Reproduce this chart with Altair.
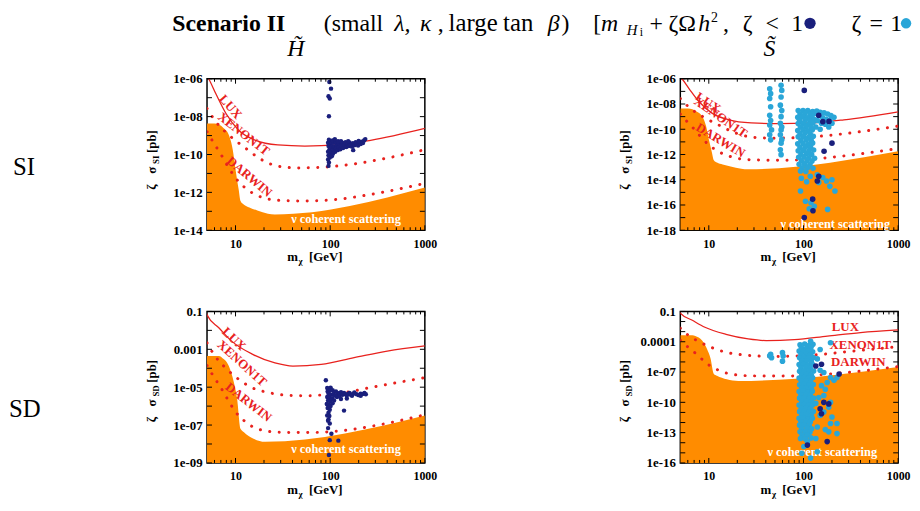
import altair as alt
import pandas as pd

FONT = "Liberation Serif"
RED = "#e8221e"
ORANGE = "#ff8c00"
NAVY = "#1a1f7c"
CYAN = "#2aa6d8"
W, H = 220, 153
XDOM = [5, 1000]

# ---------------- data ----------------
SI_FLOOR_M = [5, 6, 6.7, 7.5, 8.5, 9.35, 10.0, 10.8, 11.3, 12.2, 14, 17, 22, 26, 1000]
SI_FLOOR_S = [4.4e-9, 4.4e-9, 3.8e-9, 2.4e-9, 1.07e-9, 1.8e-10, 1.6e-11, 1.4e-12, 3.5e-13, 2.3e-13, 1.6e-13, 1.1e-13, 7.5e-14, 6.8e-14, 1.8e-12]
SD_FLOOR_M = [5, 6.7, 7.2, 8.5, 9.6, 10.4, 11.3, 12.2, 15.5, 20.5, 1000]
SD_FLOOR_S = [4.4e-4, 4.4e-4, 3.6e-4, 1.3e-4, 1.8e-5, 2.4e-6, 6.4e-8, 4.3e-8, 1.9e-8, 1.3e-8, 3.2e-7]

LUX_SI_M = [4.9, 5.2, 6.2, 7.9, 10.8, 16.3, 28, 54, 120, 267, 1000]
LUX_SI_S = [1.6e-6, 1e-6, 1.6e-7, 1.5e-8, 1.9e-9, 5.6e-10, 3.2e-10, 2.8e-10, 3.2e-10, 5.6e-10, 2.4e-9]
XEN_SI_M = [5, 6.2, 8.5, 12.7, 18.9, 28.3, 45.8, 80, 179, 401, 1000]
XEN_SI_S = [2.7e-8, 5.4e-9, 1.07e-9, 2.2e-10, 5.3e-11, 2.4e-11, 1.96e-11, 2.1e-11, 3.2e-11, 6.5e-11, 1.8e-10]
DAR_SI_M = [5, 5.9, 6.95, 8.1, 10, 12.7, 17.5, 28.3, 53.8, 120, 268, 1000]
DAR_SI_S = [1.6e-9, 4e-10, 1.1e-10, 2.9e-11, 5.8e-12, 1.7e-12, 6.4e-13, 3.8e-13, 3.5e-13, 4.3e-13, 7.8e-13, 3e-12]

LUX_SD_M = [4.9, 5, 6.7, 9.1, 15.2, 26.1, 40.4, 80.3, 179, 401, 1000]
LUX_SD_S = [0.09, 0.067, 0.0134, 2.7e-3, 5.4e-4, 1.9e-4, 1.3e-4, 1.6e-4, 3.6e-4, 8.1e-4, 1.5e-3]
XEN_SD_M = [5, 5.9, 7.8, 10.8, 14.8, 22.3, 33.5, 53.8, 87.4, 142, 268, 1000]
XEN_SD_S = [2.2e-3, 5.4e-4, 1.07e-4, 2.6e-5, 9.6e-6, 5.2e-6, 3.8e-6, 3.5e-6, 4e-6, 5.2e-6, 9.6e-6, 3.2e-5]
DAR_SD_M = [5, 5.9, 6.95, 8.1, 10, 12.7, 17.5, 28.3, 53.8, 120, 268, 1000]
DAR_SD_S = [1.4e-4, 3.5e-5, 1e-5, 2.7e-6, 5e-7, 1.5e-7, 6e-8, 4.2e-8, 4e-8, 4.8e-8, 8.5e-8, 3.5e-7]

# Higgsino, SI (zeta < 1)
TL_NAVY = [(98, 6.7e-7), (102, 3e-7), (96, 1.2e-7), (99, 9e-8), (97, 1.05e-8),
           (96, 2.5e-11), (97, 3.8e-11), (95, 5.5e-11), (99, 7e-11), (96, 9e-11), (100, 1.1e-10), (95, 1.4e-10),
           (98, 1.8e-10), (101, 2.3e-10), (96, 2.8e-10), (99, 3.4e-10), (95, 4.2e-10), (100, 5e-10), (97, 6e-10),
           (103, 4e-10), (102, 1.5e-10), (104, 8e-11), (104, 2.6e-10), (107, 1.1e-10), (108, 1.8e-10), (110, 2.6e-10),
           (109, 4.2e-10), (106, 5.5e-10), (113, 1.4e-10), (115, 2.1e-10), (117, 3.2e-10), (114, 4.6e-10), (120, 1.7e-10),
           (123, 2.5e-10), (125, 3.8e-10), (121, 5e-10), (128, 1.9e-10), (131, 2.8e-10), (134, 4.2e-10), (137, 2.2e-10),
           (141, 3.2e-10), (145, 4.5e-10), (148, 2.5e-10), (152, 3.6e-10), (157, 2.8e-10), (160, 4.3e-10), (165, 3.3e-10),
           (170, 2.6e-10), (174, 4e-10), (180, 3.1e-10), (186, 4.5e-10), (190, 3.5e-10), (197, 3e-10), (203, 4.2e-10),
           (210, 3.6e-10), (216, 4.8e-10), (222, 4e-10), (228, 5.5e-10), (235, 6.5e-10), (130, 5e-10), (112, 6.5e-10),
           (155, 5e-10), (200, 5.2e-10), (175, 1.7e-10)]

# Singlino, SI
TR_CYAN = [(44, 1.6e-7), (45, 6.6e-8), (44, 2.7e-8), (45, 6e-9), (44, 1.3e-9), (45, 5e-10), (44, 2.2e-10),
           (46, 8.9e-11), (44, 3.6e-11), (45, 1.45e-11),
           (58, 3e-7), (59, 1.2e-7), (58, 3.6e-8), (57, 8.1e-9), (59, 3e-9), (58, 1e-9), (57, 3e-10), (59, 1.5e-10),
           (58, 8.9e-11), (57, 3.6e-11), (59, 1.5e-11), (58, 7.9e-12), (57, 2.4e-12), (58, 9.7e-13),
           (88, 3e-9), (99, 3e-9), (111, 3e-9), (125, 2.5e-9), (92, 1.6e-9), (104, 1.8e-9), (118, 1.5e-9), (132, 1.8e-9),
           (87, 9e-10), (98, 1e-9), (110, 8e-10), (123, 1e-9), (91, 5e-10), (104, 5.5e-10), (117, 4.5e-10), (130, 6e-10),
           (88, 2.8e-10), (100, 3e-10), (113, 2.5e-10), (126, 3.2e-10), (93, 1.5e-10), (106, 1.6e-10), (120, 1.4e-10),
           (87, 8e-11), (99, 9e-11), (111, 7.5e-11), (124, 9e-11), (92, 4.5e-11), (104, 5e-11), (118, 4e-11),
           (88, 2.5e-11), (100, 2.6e-11), (113, 2.2e-11), (127, 2.8e-11), (94, 1.3e-11), (107, 1.4e-11), (121, 1.2e-11),
           (87, 7e-12), (99, 7.5e-12), (112, 6.5e-12), (125, 8e-12), (92, 3.8e-12), (105, 4e-12), (119, 3.5e-12),
           (88, 2e-12), (100, 2.2e-12), (114, 1.9e-12), (128, 2.3e-12), (94, 1.1e-12), (108, 1.2e-12), (122, 1e-12),
           (89, 6e-13), (101, 6.5e-13), (114, 5.5e-13), (131, 5e-13), (95, 3.2e-13), (109, 3.4e-13), (123, 3e-13),
           (90, 1.7e-13), (103, 1.8e-13), (117, 1.6e-13), (97, 9e-14), (111, 9.5e-14), (126, 8e-14), (93, 5e-14), (106, 4.5e-14),
           (138, 2.8e-9), (150, 2.2e-9), (165, 2e-9), (180, 1.6e-9), (195, 1.2e-9), (210, 9e-10), (145, 1.2e-9),
           (160, 8e-10), (175, 6e-10), (190, 5e-10), (140, 5e-10), (155, 3e-10), (170, 2.5e-10), (200, 3e-10),
           (135, 1.5e-10), (150, 1e-10), (185, 1.5e-10),
           (95, 1.3e-14), (118, 1.9e-14), (140, 2.5e-14), (160, 1.5e-14), (175, 8e-15), (190, 3e-15), (215, 1.3e-15),
           (93, 1.3e-15), (105, 2e-16), (115, 5e-17), (120, 1.5e-16), (130, 8e-17), (180, 4.5e-17), (145, 6e-15),
           (108, 7e-15), (200, 1e-14)]
TR_NAVY = [(102, 1.2e-7), (160, 4e-10), (186, 4.2e-10), (145, 1.3e-9), (200, 7.9e-12), (165, 1.8e-12),
           (145, 1.9e-14), (140, 8e-15), (125, 2.9e-16), (126, 3.5e-17), (102, 1e-17)]

# Higgsino, SD
BL_NAVY = [(90, 2.3e-5), (93, 9e-6), (97, 8e-6), (101, 9.5e-6), (94, 6e-6), (99, 6.5e-6), (96, 4.5e-6), (102, 4e-6),
           (93, 3e-6), (98, 2.8e-6), (95, 2e-6), (100, 1.8e-6), (92, 1.3e-6), (97, 1.2e-6), (101, 1e-6), (94, 8e-7),
           (99, 6.5e-7), (96, 4.5e-7), (93, 3.2e-7), (98, 3e-7), (96, 2e-7), (95, 1.7e-7), (99, 1.2e-7), (95, 6.9e-8),
           (103, 3.5e-8), (99, 1.6e-8), (122, 1.5e-8), (97, 2.6e-9),
           (106, 7e-6), (110, 5.5e-6), (115, 6e-6), (120, 5e-6), (125, 4.5e-6), (130, 5.5e-6), (108, 4e-6), (113, 3.5e-6),
           (118, 3e-6), (125, 3.3e-6), (135, 4e-6), (140, 5e-6), (145, 4.2e-6), (150, 3.6e-6), (155, 4.5e-6), (160, 5e-6),
           (165, 4e-6), (170, 3.5e-6), (175, 4.5e-6), (180, 5.2e-6), (190, 4.2e-6), (200, 3.8e-6), (210, 4.5e-6),
           (220, 4.3e-6), (230, 5e-6), (238, 4.2e-6), (105, 2.5e-6), (110, 2e-6), (106, 1.4e-6), (150, 2.5e-6),
           (130, 2.4e-6), (210, 3.5e-6), (140, 5.8e-7)]

# Singlino, SD
BR_CYAN = [(92, 5e-5), (103, 6e-5), (115, 4.5e-5), (126, 5.5e-5), (95, 2.5e-5), (108, 2.2e-5), (120, 2.8e-5),
           (90, 1.2e-5), (100, 1.1e-5), (112, 1.3e-5), (125, 1e-5), (94, 5.5e-6), (106, 6e-6), (118, 5e-6),
           (91, 2.6e-6), (101, 2.8e-6), (113, 2.4e-6), (127, 2.7e-6), (96, 1.2e-6), (108, 1.3e-6), (121, 1.1e-6),
           (90, 5.5e-7), (100, 6e-7), (111, 5e-7), (124, 5.8e-7), (94, 2.6e-7), (106, 2.8e-7), (118, 2.4e-7),
           (91, 1.2e-7), (102, 1.3e-7), (114, 1.1e-7), (128, 1.25e-7), (96, 5.5e-8), (108, 6e-8), (121, 5e-8),
           (90, 2.6e-8), (101, 2.8e-8), (112, 2.4e-8), (125, 2.7e-8), (95, 1.2e-8), (107, 1.3e-8), (119, 1.1e-8),
           (91, 5.5e-9), (102, 6e-9), (114, 5e-9), (127, 5.8e-9), (96, 2.6e-9), (108, 2.8e-9), (121, 2.4e-9),
           (90, 1.2e-9), (100, 1.3e-9), (112, 1.1e-9), (124, 1.25e-9), (94, 5.5e-10), (106, 6e-10), (118, 5e-10),
           (91, 2.6e-10), (102, 2.8e-10), (114, 2.4e-10), (128, 2.7e-10), (96, 1.2e-10), (108, 1.3e-10), (121, 1.1e-10),
           (90, 5.5e-11), (101, 6e-11), (113, 5e-11), (125, 5.8e-11), (95, 2.6e-11), (107, 2.8e-11), (119, 2.4e-11),
           (91, 1.2e-11), (102, 1.3e-11), (114, 1.1e-11), (127, 1.25e-11), (96, 5.5e-12), (108, 6e-12), (121, 5e-12),
           (90, 2.6e-12), (100, 2.8e-12), (112, 2.4e-12), (124, 2.7e-12), (94, 1.2e-12), (106, 1.3e-12), (118, 1.1e-12),
           (91, 5.5e-13), (102, 6e-13), (115, 5e-13), (96, 2.6e-13), (109, 2.8e-13), (122, 2.4e-13),
           (92, 1.2e-13), (104, 1.3e-13), (117, 1.1e-13), (97, 5.5e-14), (110, 6e-14), (93, 2.6e-14), (105, 2.4e-14),
           (120, 3e-14),
           (45, 5.6e-6), (46, 2.6e-6), (44, 4e-6), (60, 8.3e-6), (61, 3.9e-6), (60, 1.2e-6),
           (119, 1.1e-4), (193, 8e-5), (150, 1.7e-5), (164, 8.9e-8), (193, 2.9e-8), (226, 2.9e-8), (178, 9.3e-9),
           (155, 4.5e-9), (164, 4.7e-10), (193, 1e-10), (185, 3.3e-11), (164, 1.1e-11), (200, 3.5e-12),
           (193, 7.9e-13), (226, 7.9e-13), (140, 3.6e-13), (185, 1.2e-13), (226, 8e-14), (135, 2.6e-14),
           (110, 1.3e-14), (96, 9e-16), (119, 3e-16), (140, 1.3e-15), (101, 4.3e-15), (140, 2e-6), (150, 1.5e-7),
           (170, 2e-9), (145, 3e-10), (150, 5e-12), (170, 2e-13), (210, 1.5e-8), (135, 8e-11)]
BR_NAVY = [(135, 4e-7), (155, 5.9e-7), (238, 6.3e-8), (164, 1e-10), (185, 7e-11), (150, 2.3e-11), (155, 7.4e-12),
           (178, 1.3e-14), (110, 5.8e-15)]

X_MAJOR = [10, 100, 1000]
X_MINOR = [6, 7, 8, 9, 20, 30, 40, 50, 60, 70, 80, 90, 200, 300, 400, 500, 600, 700, 800, 900]

LBL = ("datum.value >= 0.0001 ? format(datum.value, '~g') : "
       "replace(format(datum.value, '.0e'), regexp('e-([0-9])$'), 'e-0$1')")

ONE = pd.DataFrame({"k": [0]})


def xenc():
    return alt.X("m:Q", scale=alt.Scale(type="log", domain=XDOM),
                 axis=alt.Axis(values=X_MAJOR, format="d", title=None, ticks=False, domain=False, grid=False,
                               labelFont=FONT, labelFontWeight="bold", labelFontSize=12, labelPadding=8,
                               labelColor="black", labelFlush=False, labelOverlap=False))


def yenc(dom, vals):
    return alt.Y("s:Q", scale=alt.Scale(type="log", domain=dom),
                 axis=alt.Axis(values=vals, labelExpr=LBL, title=None, ticks=False, domain=False, grid=False,
                               labelFont=FONT, labelFontWeight="bold", labelFontSize=13, labelPadding=5,
                               labelColor="black", labelFlush=False, labelOverlap=False))


def txt(text, x, y, size=13, weight="normal", style="normal", color="black", angle=0, align="left",
        baseline="alphabetic"):
    return alt.Chart(ONE).mark_text(text=text, fontSize=size, fontWeight=weight, fontStyle=style, color=color,
                                    angle=angle, align=align, baseline=baseline, font=FONT).encode(
        x=alt.value(x), y=alt.value(y))


def panel(dom, labvals, yticks, floor_m, floor_s, lux, xen, dar, labels, nu_pos, navy, cyan, dot, sub, extra):
    X = xenc()
    Y = yenc(dom, labvals)
    layers = []
    layers.append(alt.Chart(pd.DataFrame({"m": floor_m, "s": floor_s})).mark_area(
        color=ORANGE, clip=True, interpolate="monotone").encode(x=X, y=Y, y2=alt.datum(dom[0])))
    for (mm, ss), dotted in ((xen, True), (dar, True), (lux, False)):
        df = pd.DataFrame({"m": mm, "s": ss})
        if dotted:
            mk = alt.Chart(df).mark_line(color=RED, strokeWidth=3, strokeDash=[0.1, 9.5], strokeCap="round",
                                         clip=True, interpolate="monotone")
        else:
            mk = alt.Chart(df).mark_line(color=RED, strokeWidth=1.3, clip=True, interpolate="monotone")
        layers.append(mk.encode(x=X, y=Y))
    for text, m, s, ang in labels:
        layers.append(alt.Chart(pd.DataFrame({"m": [m], "s": [s]})).mark_text(
            text=text, font=FONT, fontWeight="bold", fontSize=13, color=RED, angle=ang,
            align="center", baseline="middle").encode(x=X, y=Y))
    layers.append(alt.Chart(pd.DataFrame({"m": [nu_pos[0]], "s": [nu_pos[1]]})).mark_text(
        text="ν coherent scattering", font=FONT, fontWeight="bold", fontSize=12.5, color="white",
        align="center", baseline="middle").encode(x=X, y=Y))
    if cyan:
        layers.append(alt.Chart(pd.DataFrame(cyan, columns=["m", "s"])).mark_circle(
            color=CYAN, size=dot, opacity=1, clip=True).encode(x=X, y=Y))
    layers.append(alt.Chart(pd.DataFrame(navy, columns=["m", "s"])).mark_circle(
        color=NAVY, size=dot, opacity=1, clip=True).encode(x=X, y=Y))
    # inward ticks
    tk = dict(color="black", strokeWidth=1)
    for vals, ln in ((X_MAJOR, 5), (X_MINOR, 3)):
        d = pd.DataFrame({"m": vals})
        layers.append(alt.Chart(d).mark_rule(**tk).encode(x=X, y=alt.value(H), y2=alt.value(H - ln)))
        layers.append(alt.Chart(d).mark_rule(**tk).encode(x=X, y=alt.value(0), y2=alt.value(ln)))
    d = pd.DataFrame({"s": yticks})
    layers.append(alt.Chart(d).mark_rule(**tk).encode(y=Y, x=alt.value(0), x2=alt.value(5)))
    layers.append(alt.Chart(d).mark_rule(**tk).encode(y=Y, x=alt.value(W), x2=alt.value(W - 5)))
    # axis titles
    layers += [
        txt("m", 81, 184, 13, "bold"), txt("χ", 92.5, 187, 9, "bold"), txt("[GeV]", 103, 184, 13, "bold"),
        txt("ζ", -52, 112, 13, "bold", angle=270), txt("σ", -52, 96, 13, "bold", angle=270),
        txt(sub, -49, 86, 9, "bold", angle=270),
        txt("[pb]", -52, 75 if sub == "SI" else 72, 13, "bold", angle=270),
    ]
    layers += extra
    return alt.layer(*layers).properties(width=W, height=H)


SI_TICKS_A = [1e-6, 1e-7, 1e-8, 1e-9, 1e-10, 1e-11, 1e-12, 1e-13, 1e-14]
SI_TICKS_B = [1e-6, 1e-7, 1e-8, 1e-9, 1e-10, 1e-11, 1e-12, 1e-13, 1e-14, 1e-15, 1e-16, 1e-17, 1e-18]
SD_TICKS_A = [0.1, 1e-2, 1e-3, 1e-4, 1e-5, 1e-6, 1e-7, 1e-8, 1e-9]
SD_TICKS_B = [0.1, 1e-2, 1e-3, 1e-4, 1e-5, 1e-6, 1e-7, 1e-8, 1e-9, 1e-10, 1e-11, 1e-12, 1e-13, 1e-14, 1e-15, 1e-16]

# page-level texts, positioned relative to the top-left panel
TY = 27 - 75
title_extra = [
    txt("Scenario II", -35, TY, 24, "bold"),
    txt("(small", 118, TY, 24), txt("λ,", 189, TY, 24, style="italic"), txt("κ", 215, TY, 24, style="italic"),
    txt(",", 233, TY, 24), txt("large", 244, TY, 25), txt("tan", 299, TY, 25),
    txt("β", 344, TY, 24, style="italic"), txt(")", 358, TY, 24), txt("[", 390, TY, 24),
    txt("m", 398, TY, 24, style="italic"), txt("H", 424, TY + 4, 15, style="italic"), txt("i", 437, TY + 5, 12),
    txt("+", 447, TY, 24), txt("ζΩ", 466, TY, 24), txt("h", 496, TY, 24, style="italic"),
    txt("2", 509, TY - 9, 14), txt(",", 521, TY, 24),
    txt("ζ", 541, TY, 24), txt("<", 564, TY, 24), txt("1", 590, TY, 24),
    alt.Chart(ONE).mark_circle(color=NAVY, size=130, opacity=1).encode(x=alt.value(609), y=alt.value(TY - 8)),
    txt("ζ", 651, TY, 24), txt("=", 669, TY, 24), txt("1", 690, TY, 24),
    alt.Chart(ONE).mark_circle(color=CYAN, size=110, opacity=1).encode(x=alt.value(706), y=alt.value(TY - 8)),
    txt("H\u0303", 81, 52 - 75, 24, style="italic"),
    txt("S\u0303", 562, 52 - 75, 24, style="italic"),
    txt("SI", -196, 97, 25),
]

tl = panel([1e-14, 1e-6], [1e-6, 1e-8, 1e-10, 1e-12, 1e-14], SI_TICKS_A, SI_FLOOR_M, SI_FLOOR_S,
           (LUX_SI_M, LUX_SI_S), (XEN_SI_M, XEN_SI_S), (DAR_SI_M, DAR_SI_S),
           [("LUX", 8.85, 3.3e-8, 49), ("XENON1T", 12.2, 1.2e-9, 38), ("DARWIN", 14, 6.6e-12, 40)],
           (147, 3.8e-14), TL_NAVY, None, 20, "SI", title_extra)

tr = panel([1e-18, 1e-6], [1e-6, 1e-8, 1e-10, 1e-12, 1e-14, 1e-16, 1e-18], SI_TICKS_B, SI_FLOOR_M, SI_FLOOR_S,
           (LUX_SI_M, LUX_SI_S), (XEN_SI_M, XEN_SI_S), (DAR_SI_M, DAR_SI_S),
           [("LUX", 9.8, 1.25e-8, 33), ("XENON1T", 13.3, 8.7e-10, 35), ("DARWIN", 13.3, 1.3e-11, 31)],
           (217, 3.1e-18), TR_NAVY, TR_CYAN, 32, "SI", [])

bl = panel([1e-9, 0.1], [0.1, 1e-3, 1e-5, 1e-7, 1e-9], SD_TICKS_A, SD_FLOOR_M, SD_FLOOR_S,
           (LUX_SD_M, LUX_SD_S), (XEN_SD_M, XEN_SD_S), (DAR_SD_M, DAR_SD_S),
           [("LUX", 9.6, 3.5e-3, 44), ("XENON1T", 11.7, 1.8e-4, 42), ("DARWIN", 13.7, 1.6e-6, 38)],
           (147, 5.5e-9), BL_NAVY, None, 20, "SD", [txt("SD", -200, 107, 25)])

br = panel([1e-16, 0.1], [0.1, 1e-4, 1e-7, 1e-10, 1e-13, 1e-16], SD_TICKS_B, SD_FLOOR_M, SD_FLOOR_S,
           (LUX_SD_M, LUX_SD_S), (XEN_SD_M, XEN_SD_S), (DAR_SD_M, DAR_SD_S),
           [("LUX", 277, 2.7e-3, 0), ("XENON1T", 398, 5.2e-5, 0), ("DARWIN", 380, 1e-6, 0)],
           (158, 1.1e-15), BR_NAVY, BR_CYAN, 32, "SD", [])

chart = alt.concat(tl, tr, bl, br, columns=2, spacing={"row": 82, "column": 258}, bounds="flush",
                   padding=0).configure_view(stroke="black", strokeWidth=1.5)

chart.save("out.html", embed_options={"renderer": "svg", "actions": False})
